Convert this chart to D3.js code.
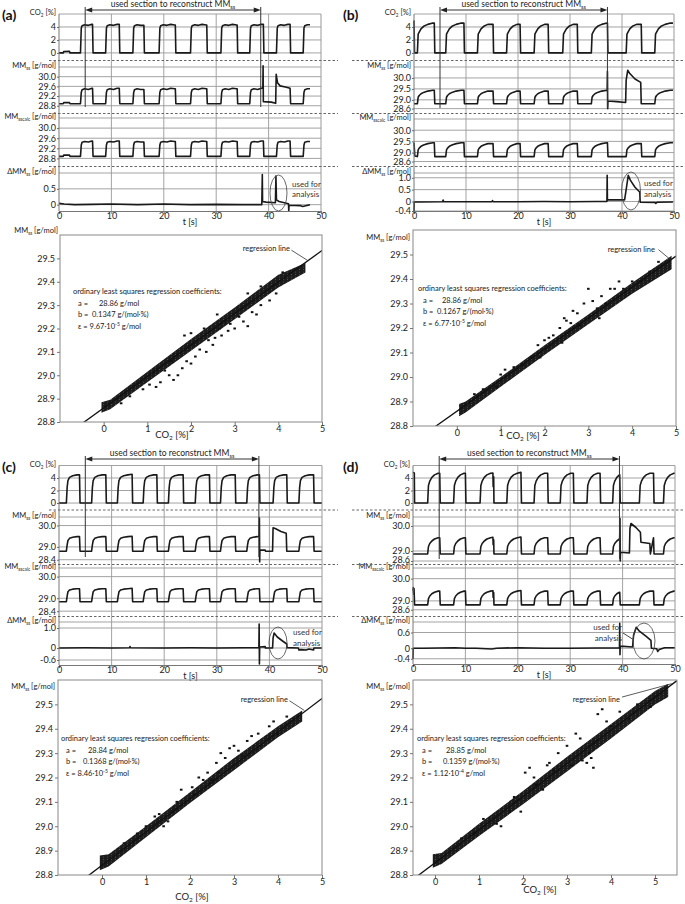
<!DOCTYPE html>
<html>
<head>
<meta charset="utf-8">
<script src="https://cdn.jsdelivr.net/npm/d3@7"></script>
<style>
  body { margin: 0; background: #fff; }
  svg { font-family: Lato, "Open Sans", sans-serif; }
</style>
</head>
<body>
<svg id="fig" width="685" height="904"></svg>
<script>
// ---------- data ----------
const timeTicks = [0, 10, 20, 30, 40, 50];
const co2Ticks = [0, 2, 4];
const scatterXTicks = [0, 1, 2, 3, 4, 5];
const scatterYTicks = [28.8, 28.9, 29.0, 29.1, 29.2, 29.3, 29.4, 29.5];

// (a) pulses [rise, fall] in s
const pulsesA = [[4.1, 6.4], [8.9, 11.5], [14.1, 16.2], [19.1, 22.2], [25.1, 28.2], [30.9, 34.0], [36.4, 39.0], [41.5, 44.1], [46.6, 47.9]];
const co2ShapeA = [[0, 0], [0.15, 3.8], [0.3, 4.2], [0.8, 4.35], [1.5, 4.25], [2.2, 4.4], [3.0, 4.3]];
const mmShapeA = [[0, 28.88], [0.15, 29.35], [0.3, 29.46], [0.8, 29.5], [1.5, 29.47], [2.2, 29.52], [3.0, 29.5]];
const mmcShapeA = [[0, 28.88], [0.15, 29.33], [0.3, 29.44], [0.8, 29.47], [1.5, 29.45], [2.2, 29.49], [3.0, 29.47]];
const co2StartA = [[0.8, 0], [0.9, 0.2], [2.0, 0.25], [2.1, 0]];
const mmStartA = [[0.8, 28.88], [0.9, 28.93], [2.0, 28.93], [2.1, 28.88]];
const mmAnomA = [[38.9, 29.52], [38.95, 30.45], [39.0, 28.97], [40.5, 28.95], [41.35, 28.9], [41.45, 30.1], [41.7, 29.75], [42.2, 29.62], [43.2, 29.57], [44.1, 29.52], [44.2, 28.88]];
const dmmA = [[0, 0.04], [1, 0.02], [3, 0.0], [6, 0.01], [10, 0.02], [15, 0.0], [20, 0.02], [25, 0.0], [30, 0.01], [35, 0.0], [38.7, 0.0], [38.8, 0.95], [38.85, 0.1], [39.5, 0.08], [41.3, 0.06], [41.4, 0.9], [41.5, 0.15], [42, 0.1], [43.8, 0.03], [43.85, -0.2], [43.9, -0.02], [46, -0.03], [46.5, -0.06], [47.9, 0.0]];

// (b)
const pulsesB = [[0.65, 3.9], [6.1, 9.6], [12.2, 15.2], [17.8, 20.4], [23.1, 25.8], [28.6, 31.4], [34.1, 37.2], [40.8, 43.7], [46.3, 49.8]];
const co2ShapeB = [[0, 0], [0.15, 2.9], [0.35, 3.2], [0.7, 3.7], [1.2, 4.1], [2.0, 4.4], [3.0, 4.6]];
const mmShapeB = [[0, 28.82], [0.15, 29.12], [0.35, 29.2], [0.7, 29.28], [1.2, 29.34], [2.0, 29.4], [3.0, 29.44]];
const mmcShapeB = [[0, 28.82], [0.15, 29.12], [0.35, 29.2], [0.7, 29.28], [1.2, 29.34], [2.0, 29.4], [3.0, 29.44]];
const co2StartB = [[0, 5.0], [0.1, 0]];
const mmcStartB = [[0, 29.45], [0.15, 28.85]];
const mmAnomB = [[37.15, 29.45], [37.2, 30.3], [37.25, 28.6], [37.3, 28.95], [39, 28.92], [40.7, 28.88], [40.8, 29.9], [41.1, 30.35], [41.5, 30.2], [42.5, 29.95], [43.6, 29.8], [43.7, 28.82]];
const dmmB = [[0, -0.4], [0.05, -0.02], [1, -0.02], [5.5, -0.01], [5.6, 0.06], [5.7, -0.01], [10, -0.01], [15, -0.01], [15.1, 0.04], [15.2, -0.01], [20, -0.01], [25, 0.0], [30, -0.01], [35, 0.0], [37.1, 0.0], [37.15, 1.1], [37.2, 0.05], [37.3, 0.08], [40.5, 0.07], [40.8, 0.5], [41.2, 1.1], [41.6, 0.9], [42.5, 0.6], [43.4, 0.4], [43.5, -0.03], [46.3, -0.04], [46.5, -0.08], [46.8, -0.03], [49.8, -0.02]];

// (c)
const pulsesC = [[1.4, 3.9], [6.2, 8.9], [11.1, 13.9], [16.0, 18.6], [20.8, 23.6], [25.9, 28.6], [30.7, 33.5], [35.7, 38.1], [40.7, 43.3], [45.6, 48.4]];
const co2ShapeC = [[0, 0], [0.15, 2.5], [0.3, 3.6], [0.6, 4.1], [1.2, 4.35], [2.0, 4.5], [2.8, 4.6]];
const mmShapeC = [[0, 28.8], [0.15, 29.1], [0.3, 29.3], [0.6, 29.4], [1.2, 29.45], [2.0, 29.48], [2.8, 29.5]];
const mmcShapeC = [[0, 28.84], [0.15, 29.1], [0.3, 29.3], [0.6, 29.38], [1.2, 29.42], [2.0, 29.44], [2.8, 29.46]];
const mmAnomC = [[38.05, 29.5], [38.1, 30.35], [38.15, 28.3], [38.2, 28.85], [39.2, 28.85], [39.25, 28.8], [40.6, 28.8], [40.7, 29.9], [41.2, 29.85], [42.2, 29.72], [43.2, 29.64], [43.3, 28.8]];
const dmmC = [[0, 0], [5, 0.01], [10, 0.0], [13.4, 0.01], [13.5, 0.07], [13.6, 0.01], [20, 0.0], [25, 0.01], [30, 0.0], [35, 0.01], [38.0, 0.01], [38.05, 1.2], [38.1, -0.8], [38.15, 0.05], [39.2, 0.07], [39.25, 0.0], [40.6, 0.0], [40.7, 0.5], [40.9, 0.75], [41.5, 0.55], [42.5, 0.35], [43.3, 0.2], [43.35, 0.02], [45.5, 0.0], [45.6, -0.1], [46, -0.08], [47, -0.1], [47.5, -0.05], [48.4, -0.1], [48.45, 0.0], [50, 0.0]];

// (d)
const pulsesD = [[2.8, 5.1], [7.75, 10.0], [12.8, 15.5], [17.9, 20.6], [23.1, 25.7], [28.1, 30.6], [33.2, 35.7], [38.1, 39.45], [43.2, 45.9], [47.8, 50]];
const co2ShapeD = [[0, 0], [0.15, 2.8], [0.4, 3.5], [0.8, 4.1], [1.3, 4.5], [2.0, 4.75], [2.7, 4.9]];
const mmShapeD = [[0, 28.88], [0.15, 29.18], [0.4, 29.3], [0.8, 29.4], [1.3, 29.48], [2.0, 29.53], [2.7, 29.56]];
const mmcShapeD = [[0, 28.82], [0.15, 29.1], [0.4, 29.22], [0.8, 29.32], [1.3, 29.39], [2.0, 29.44], [2.7, 29.47]];
const co2StartD = [[0, 4.9], [0.25, 4.8], [0.3, 0]];
const co2NotchD = [[15.25, 4.8], [15.3, 2.6], [15.4, 4.2], [15.45, 0]];
const mmNotchD = [[15.25, 29.55], [15.3, 29.25], [15.4, 29.45], [15.45, 28.88]];
const mmcStartD = [[0, 29.45], [0.05, 29.6], [0.12, 29.3], [0.2, 29.55], [0.3, 28.82]];
const mmcNotchD = [[15.25, 29.46], [15.3, 29.15], [15.4, 29.38], [15.45, 28.82]];
const mmAnomD = [[39.45, 29.55], [39.5, 30.3], [39.55, 28.6], [39.6, 28.95], [41.3, 28.92], [41.4, 29.9], [41.6, 30.1], [42.5, 29.95], [43.4, 29.75], [43.5, 29.35], [45.2, 29.3], [45.3, 28.88]];
const dmmD = [[0, -0.4], [0.05, 0.0], [2, 0.0], [5, 0.01], [8, 0.02], [10, 0.0], [12, 0.0], [15, -0.03], [16, 0.0], [20, 0.02], [25, 0.0], [30, 0.0], [35, 0.01], [39.4, 0.01], [39.45, 0.95], [39.5, -0.25], [39.55, 0.08], [41.9, 0.05], [42.1, 0.5], [42.6, 0.8], [43.2, 0.65], [44.5, 0.45], [45.4, 0.3], [45.5, 0.0], [46.5, -0.02], [46.7, -0.12], [47, -0.05], [48, 0.02], [50, 0.02]];

// scatter: regression coefficients [a, b]
const regA = [28.86, 0.1347];
const regB = [28.86, 0.1267];
const regC = [28.84, 0.1368];
const regD = [28.85, 0.1359];
const epsLabels = [['9.67', '-5'], ['6.77', '-5'], ['8.46', '-5'], ['1.12', '-4']];

// band of dense points: [co2, lower MM, upper MM]
const bandA = [[-0.05, 28.84, 28.885], [0.15, 28.855, 28.895], [1, 28.97, 29.015], [2, 29.105, 29.155], [3, 29.24, 29.29], [4, 29.375, 29.43], [4.62, 29.44, 29.48]];
const bandB = [[0.05, 28.84, 28.89], [0.2, 28.855, 28.9], [1, 28.96, 29.0], [2, 29.09, 29.13], [3, 29.215, 29.255], [4, 29.34, 29.385], [4.9, 29.44, 29.495]];
const bandC = [[-0.05, 28.82, 28.88], [0.15, 28.835, 28.885], [1, 28.955, 29.0], [2, 29.095, 29.14], [3, 29.23, 29.28], [4, 29.365, 29.41], [4.55, 29.43, 29.475]];
const bandD = [[-0.05, 28.83, 28.885], [0.15, 28.845, 28.89], [1, 28.96, 29.01], [2, 29.09, 29.145], [3, 29.225, 29.285], [4, 29.36, 29.42], [5, 29.5, 29.555], [5.3, 29.53, 29.585]];

// scattered outliers [co2, MM]
const outA = [[2.4, 29.15], [2.55, 29.16], [2.7, 29.17], [2.85, 29.19], [2.2, 29.11], [2.35, 29.1], [1.9, 29.06], [2.0, 29.05], [1.5, 29.0], [1.6, 28.98], [1.7, 29.0], [1.3, 28.97], [1.2, 28.95], [3.0, 29.2], [3.2, 29.23], [3.4, 29.27], [3.5, 29.26], [3.6, 29.3], [2.0, 29.18], [1.85, 29.17], [3.3, 29.35], [3.6, 29.38], [2.6, 29.26], [4.1, 29.44], [0.9, 28.94], [2.65, 29.2],
  [1.05, 28.96], [1.4, 29.02], [1.8, 29.03], [2.1, 29.08], [2.5, 29.13], [2.9, 29.22], [3.1, 29.25], [3.8, 29.32], [3.95, 29.35], [0.6, 28.91], [0.4, 28.88], [3.3, 29.21], [2.3, 29.2], [1.55, 29.06]];
const outB = [[2.0, 29.15], [2.1, 29.16], [2.35, 29.2], [2.5, 29.23], [2.6, 29.22], [2.75, 29.26], [3.0, 29.36], [3.3, 29.33], [3.5, 29.36], [3.6, 29.36], [3.2, 29.28], [1.3, 29.04], [1.5, 29.05], [1.7, 29.08], [0.9, 28.96], [1.0, 29.01], [4.4, 29.43], [4.2, 29.39], [2.9, 29.3], [3.8, 29.36], [1.9, 29.08], [2.4, 29.14], [2.45, 29.24],
  [1.85, 29.13], [2.2, 29.17], [2.65, 29.27], [3.1, 29.31], [3.4, 29.3], [3.7, 29.39], [4.0, 29.39], [4.6, 29.47], [1.1, 29.03], [0.6, 28.95], [0.4, 28.93], [2.8, 29.21], [3.25, 29.24]];
const outC = [[3.55, 29.38], [3.0, 29.33], [3.3, 29.35], [2.7, 29.3], [2.6, 29.26], [2.4, 29.22], [2.2, 29.2], [1.8, 29.15], [1.6, 29.06], [2.1, 29.13], [3.8, 29.41], [3.2, 29.29], [1.2, 29.04], [1.5, 29.02], [2.9, 29.32], [4.0, 29.38], [3.6, 29.33], [1.4, 29.0], [2.5, 29.19],
  [1.0, 29.0], [1.3, 29.05], [1.7, 29.1], [2.05, 29.16], [2.3, 29.19], [2.8, 29.28], [3.1, 29.31], [3.4, 29.37], [3.9, 29.43], [4.2, 29.45], [0.5, 28.93], [0.8, 28.97], [2.65, 29.22]];
const outD = [[3.3, 29.36], [3.7, 29.46], [3.9, 29.43], [3.0, 29.33], [2.7, 29.23], [2.55, 29.25], [2.15, 29.24], [2.25, 29.2], [3.45, 29.26], [3.55, 29.28], [3.5, 29.3], [3.6, 29.24], [1.7, 29.06], [1.4, 29.01], [1.5, 29.0], [1.95, 29.06], [4.2, 29.47], [4.6, 29.5], [2.05, 29.22], [3.2, 29.38], [3.8, 29.48], [2.6, 29.26],
  [1.1, 29.03], [1.8, 29.12], [2.3, 29.17], [2.8, 29.3], [3.1, 29.25], [3.35, 29.27], [4.0, 29.41], [4.4, 29.44], [4.9, 29.49], [0.6, 28.95], [0.9, 28.97], [2.45, 29.15]];

// ---------- helpers ----------
const svg = d3.select('#fig');
const ink = '#1a1a1a';

// faint speckle texture for the dense point band
const pat = svg.append('defs').append('pattern').attr('id', 'dots')
  .attr('patternUnits', 'userSpaceOnUse').attr('width', 4).attr('height', 2.5);
pat.append('rect').attr('width', 4).attr('height', 2.5).attr('fill', '#1c1c1c');
pat.append('rect').attr('x', 3).attr('y', 1.9).attr('width', 1).attr('height', 0.6).attr('fill', '#6a6a6a');

// series from pulse times, a plateau shape and replaced stretches
const buildSeries = (pulses, shape, tEnd, extras) => {
  const base = shape[0][1];
  let pts = [[0, base]];
  pulses.forEach(([rise, fall]) => {
    const stop = Math.min(fall, tEnd);
    shape.forEach(([dt, v]) => { if (rise + dt < stop) pts.push([rise + dt, v]); });
    const last = pts[pts.length - 1][1];
    pts.push([stop, last]);
    if (fall < tEnd) pts.push([fall + 0.1, base]);
  });
  if (pulses[pulses.length - 1][1] < tEnd) pts.push([tEnd, base]);
  (extras || []).forEach((ex) => {
    const from = ex[0][0], to = ex[ex.length - 1][0];
    pts = pts.filter((p) => p[0] < from || p[0] > to + 0.15).concat(ex);
  });
  pts.sort((a, b) => a[0] - b[0]);
  return pts;
};

const addLabel = (g, x, y, parts, size, anchor, subRatio) => {
  const t = g.append('text').attr('x', x).attr('y', y).attr('font-size', size)
    .attr('text-anchor', anchor || 'end').attr('fill', '#222');
  let shift = 0;
  parts.forEach(([s, mode]) => {
    const dy = mode === 1 ? 2 : mode === 2 ? -3.5 : 0;
    t.append('tspan').attr('dy', dy - shift).attr('font-size', mode ? size * (subRatio || 0.68) : size).text(s);
    shift = dy;
  });
  return t;
};

const fmtDelta = (d) => (d === 0 ? '0' : d.toFixed(1));
const lblCO2 = [['CO', 0], ['2', 1], [' [%]', 0]];
const lblMM = [['MM', 0], ['ss', 1], [' [g/mol]', 0]];
const lblMMc = [['MM', 0], ['sscalc', 1], [' [g/mol]', 0]];
const lblDMM = [['\u0394MM', 0], ['ss', 1], [' [g/mol]', 0]];

// ---------- time panels ----------
const timePanels = [
  {
    name: '(a)', nameX: 2, nameY: 20, tx: [59, 321], tEnd: 47.9, secEnd: 38.5, arrowY: 10, secBottom: 107,
    dashY: [60.5, 113.5, 166.5], dashX: [49, 338],
    ellipse: [278.5, 193, 8.5, 18], usedX: 292, usedY: [187, 197], usedAnchor: 'start',
    strips: [
      { label: lblCO2, domain: [-1, 6], range: [59.4, 14], ticks: co2Ticks, fmt: d3.format('d'), data: buildSeries(pulsesA, co2ShapeA, 47.9, [co2StartA]) },
      { label: lblMM, domain: [28.5, 30.4], range: [113, 67], ticks: [28.8, 29.2, 29.6, 30.0], fmt: d3.format('.1f'), data: buildSeries(pulsesA, mmShapeA, 47.9, [mmStartA, mmAnomA]) },
      { label: lblMMc, domain: [28.5, 30.4], range: [166, 118], ticks: [28.8, 29.2, 29.6, 30.0], fmt: d3.format('.1f'), data: buildSeries(pulsesA, mmcShapeA, 47.9, [mmStartA]) },
      { label: lblDMM, domain: [-0.2, 1.0], range: [211, 173], ticks: [0, 0.5], fmt: fmtDelta, data: dmmA }
    ]
  },
  {
    name: '(b)', nameX: 343, nameY: 20, tx: [414, 674], tEnd: 49.8, secEnd: 37.2, arrowY: 10, secBottom: 108,
    dashY: [60.5, 113.5, 166.5], dashX: [352, 685],
    ellipse: [631, 191, 9.5, 19], usedX: 644, usedY: [186, 197], usedAnchor: 'start',
    strips: [
      { label: lblCO2, domain: [-1, 6], range: [59.4, 14], ticks: co2Ticks, fmt: d3.format('d'), data: buildSeries(pulsesB, co2ShapeB, 49.8, [co2StartB]) },
      { label: lblMM, domain: [28.4, 30.5], range: [113, 67], ticks: [28.6, 29.0, 29.5, 30.0], fmt: d3.format('.1f'), data: buildSeries(pulsesB, mmShapeB, 49.8, [mmAnomB]) },
      { label: lblMMc, domain: [28.4, 30.5], range: [166, 119], ticks: [28.6, 29.0, 29.5, 30.0], fmt: d3.format('.1f'), data: buildSeries(pulsesB, mmcShapeB, 49.8, [mmcStartB]) },
      { label: lblDMM, domain: [-0.4, 1.2], range: [211, 173], ticks: [-0.4, 0, 0.5, 1.0], fmt: fmtDelta, data: dmmB }
    ]
  },
  {
    name: '(c)', nameX: 2, nameY: 472, tx: [59, 322], tEnd: 50, secEnd: 38, arrowY: 459, secBottom: 557,
    dashY: [510, 564.5, 616.5], dashX: [49, 338],
    ellipse: [278, 643, 9, 16], usedX: 293, usedY: [635, 646], usedAnchor: 'start',
    strips: [
      { label: lblCO2, domain: [-1, 6], range: [509.3, 465.5], ticks: co2Ticks, fmt: d3.format('d'), data: buildSeries(pulsesC, co2ShapeC, 50) },
      { label: lblMM, domain: [28.2, 30.4], range: [564, 517], ticks: [28.4, 29.0, 30.0], fmt: d3.format('.1f'), data: buildSeries(pulsesC, mmShapeC, 50, [mmAnomC]) },
      { label: lblMMc, domain: [28.2, 30.4], range: [615.5, 568], ticks: [28.4, 29.0, 30.0], fmt: d3.format('.1f'), data: buildSeries(pulsesC, mmcShapeC, 50) },
      { label: lblDMM, domain: [-0.85, 1.3], range: [665, 622], ticks: [-0.6, 0, 1.0], fmt: fmtDelta, data: dmmC }
    ]
  },
  {
    name: '(d)', nameX: 343, nameY: 472, tx: [413, 675], tEnd: 50, secEnd: 39.4, arrowY: 459, secBottom: 559,
    dashY: [510, 564.5, 616.5], dashX: [352, 685],
    ellipse: [644, 641, 11, 18], usedX: 622, usedY: [630, 641], usedAnchor: 'end', leader: [[623, 633], [634, 640]],
    strips: [
      { label: lblCO2, domain: [-1, 6], range: [509.3, 465.5], ticks: co2Ticks, fmt: d3.format('d'), data: buildSeries(pulsesD, co2ShapeD, 50, [co2StartD, co2NotchD]) },
      { label: lblMM, domain: [28.48, 30.36], range: [564, 517], ticks: [28.6, 29.0, 30.0], fmt: d3.format('.1f'), lowShift: -1.5, data: buildSeries(pulsesD, mmShapeD, 50, [mmNotchD, mmAnomD]) },
      { label: lblMMc, domain: [28.32, 30.48], range: [616, 568], ticks: [28.6, 29.0, 30.0], fmt: d3.format('.1f'), data: buildSeries(pulsesD, mmcShapeD, 50, [mmcStartD, mmcNotchD]) },
      { label: lblDMM, domain: [-0.6, 1.0], range: [664, 622], ticks: [-0.4, 0, 0.6], fmt: fmtDelta, data: dmmD }
    ]
  }
];

const drawTimePanel = (p) => {
  const g = svg.append('g');
  const x = d3.scaleLinear().domain([0, 50]).range(p.tx);
  const top = p.strips[0].range[1];
  const bottom = p.strips[3].range[0];

  g.append('text').attr('x', p.nameX).attr('y', p.nameY).attr('font-size', 14)
    .attr('font-weight', 'bold').attr('fill', '#111').text(p.name);

  // vertical grid
  g.selectAll('.vgrid').data(timeTicks.slice(1, 5)).enter().append('line')
    .attr('x1', (d) => x(d)).attr('x2', (d) => x(d)).attr('y1', top).attr('y2', bottom)
    .attr('stroke', '#999').attr('stroke-width', 0.9);

  p.strips.forEach((s) => {
    const y = d3.scaleLinear().domain(s.domain).range(s.range);
    g.selectAll(null).data(s.ticks.concat([s.domain[1]])).enter().append('line')
      .attr('x1', p.tx[0]).attr('x2', p.tx[1]).attr('y1', (d) => y(d)).attr('y2', (d) => y(d))
      .attr('stroke', '#999').attr('stroke-width', 0.9);

    const ax = g.append('g').attr('transform', `translate(${p.tx[0]},0)`)
      .call(d3.axisLeft(y).tickValues(s.ticks).tickSize(2).tickPadding(1).tickFormat(s.fmt));
    ax.select('.domain').remove();
    ax.attr('font-size', 9).attr('font-family', null);
    ax.selectAll('line').attr('stroke', '#666');
    ax.selectAll('text').attr('fill', '#222');
    if (s.lowShift) ax.select('.tick text').attr('y', s.lowShift);

    addLabel(g, p.tx[0] - 3, s.range[1] + 1, s.label, 7.5, 'end', 0.62);

    g.append('path').datum(s.data)
      .attr('fill', 'none').attr('stroke', ink).attr('stroke-width', 1.6)
      .attr('stroke-linejoin', 'round')
      .attr('d', d3.line().x((d) => x(d[0])).y((d) => y(d[1])));
  });

  // frame sides
  g.append('line').attr('x1', p.tx[0]).attr('x2', p.tx[0]).attr('y1', top).attr('y2', bottom).attr('stroke', '#777');
  g.append('line').attr('x1', p.tx[1]).attr('x2', p.tx[1]).attr('y1', top).attr('y2', bottom).attr('stroke', '#999');

  // dashed separators
  g.selectAll('.dash').data(p.dashY).enter().append('line')
    .attr('x1', p.dashX[0]).attr('x2', p.dashX[1]).attr('y1', (d) => d).attr('y2', (d) => d)
    .attr('stroke', '#666').attr('stroke-dasharray', '2.5,2');

  // time axis
  const bx = g.append('g').attr('transform', `translate(0,${bottom})`)
    .call(d3.axisBottom(x).tickValues(timeTicks).tickSize(3).tickPadding(-1));
  bx.select('.domain').attr('stroke', '#777');
  bx.attr('font-size', 9).attr('font-family', null);
  bx.selectAll('line').attr('stroke', '#777');
  bx.selectAll('text').attr('fill', '#222');
  g.append('text').attr('x', x(25)).attr('y', bottom + 14).attr('font-size', 9)
    .attr('text-anchor', 'middle').attr('fill', '#222').text('t [s]');

  // used section marker
  const x5 = x(5), xe = x(p.secEnd), ay = p.arrowY;
  [x5, xe].forEach((xv) => {
    g.append('line').attr('x1', xv).attr('x2', xv).attr('y1', ay - 3).attr('y2', p.secBottom)
      .attr('stroke', '#333').attr('stroke-width', 1);
  });
  g.append('line').attr('x1', x5 + 4).attr('x2', xe - 4).attr('y1', ay).attr('y2', ay).attr('stroke', '#333');
  g.append('path').attr('d', `M${x5},${ay} l7,-2.5 v5 z M${xe},${ay} l-7,-2.5 v5 z`).attr('fill', '#222');
  addLabel(g, (x5 + xe) / 2, ay - 3.5, [['used section to reconstruct MM', 0], ['ss', 1]], 8.5, 'middle');

  // analysis marker
  const [cx, cy, rx, ry] = p.ellipse;
  g.append('ellipse').attr('cx', cx).attr('cy', cy).attr('rx', rx).attr('ry', ry)
    .attr('fill', 'none').attr('stroke', '#444').attr('stroke-width', 0.8);
  ['used for', 'analysis'].forEach((t, i) => {
    g.append('text').attr('x', p.usedX).attr('y', p.usedY[i]).attr('font-size', 8)
      .attr('text-anchor', p.usedAnchor).attr('fill', '#333').text(t);
  });
  if (p.leader) {
    g.append('line').attr('x1', p.leader[0][0]).attr('y1', p.leader[0][1])
      .attr('x2', p.leader[1][0]).attr('y2', p.leader[1][1]).attr('stroke', '#444');
  }
};

timePanels.forEach(drawTimePanel);

// ---------- scatter panels ----------
const scatterPanels = [
  { id: 'sa', xr: [60, 322], yr: [422, 235], xd: [-1, 5], reg: regA, eps: epsLabels[0], band: bandA, out: outA,
    yLab: [58, 233], xLab: [172, 438], regLab: [290, 251], leader: [[4.3, 29.535], [4.68, 29.49]],
    coef: [73, 294], aVal: 99, bVal: 92, bText: '0.1347' },
  { id: 'sb', xr: [413, 676], yr: [426, 230], xd: [-1, 5], reg: regB, eps: epsLabels[1], band: bandB, out: outB,
    yLab: [410, 240], xLab: [523, 439], regLab: [655, 252], leader: [[4.6, 29.52], [4.88, 29.478]],
    coef: [418, 291], aVal: 442, bVal: 437, bText: '0.1267' },
  { id: 'sc', xr: [58, 322], yr: [875, 680], xd: [-1, 5], reg: regC, eps: epsLabels[2], band: bandC, out: outC,
    yLab: [55, 689], xLab: [192, 900], regLab: [288, 702], leader: [[4.26, 29.515], [4.6, 29.475]],
    coef: [61, 741], aVal: 88, bVal: 83, bText: '0.1368' },
  { id: 'sd', xr: [413, 677], yr: [875, 680], xd: [-0.5, 5.5], reg: regD, eps: epsLabels[3], band: bandD, out: outD,
    yLab: [410, 689], xLab: [540, 893], regLab: [620, 702], leader: [[4.25, 29.53], [5.38, 29.585]],
    coef: [417, 741], aVal: 446, bVal: 443, bText: '0.1359' }
];

const drawScatter = (p) => {
  const g = svg.append('g');
  const x = d3.scaleLinear().domain(p.xd).range(p.xr);
  const y = d3.scaleLinear().domain([28.8, 29.6]).range(p.yr);
  const [a, b] = p.reg;

  g.append('clipPath').attr('id', 'clip-' + p.id).append('rect')
    .attr('x', p.xr[0]).attr('y', p.yr[1]).attr('width', p.xr[1] - p.xr[0]).attr('height', p.yr[0] - p.yr[1]);
  const plot = g.append('g').attr('clip-path', `url(#clip-${p.id})`);

  plot.append('path').datum(p.band).attr('fill', 'url(#dots)')
    .attr('d', d3.area().x((d) => x(d[0])).y0((d) => y(d[1])).y1((d) => y(d[2])));

  plot.selectAll('.pt').data(p.out).enter().append('rect')
    .attr('x', (d) => x(d[0]) - 1.3).attr('y', (d) => y(d[1]) - 1)
    .attr('width', 2.6).attr('height', 2).attr('fill', '#111');

  plot.append('path').datum(p.xd.map((v) => [v, a + b * v]))
    .attr('fill', 'none').attr('stroke', '#111').attr('stroke-width', 1.3)
    .attr('d', d3.line().x((d) => x(d[0])).y((d) => y(d[1])));

  g.append('rect').attr('x', p.xr[0]).attr('y', p.yr[1])
    .attr('width', p.xr[1] - p.xr[0]).attr('height', p.yr[0] - p.yr[1])
    .attr('fill', 'none').attr('stroke', '#888').attr('stroke-width', 1);

  const ay = g.append('g').attr('transform', `translate(${p.xr[0]},0)`)
    .call(d3.axisLeft(y).tickValues(scatterYTicks).tickSize(3).tickPadding(2).tickFormat(d3.format('.1f')));
  ay.select('.domain').remove();
  ay.attr('font-size', 9).attr('font-family', null);
  ay.selectAll('line').attr('stroke', '#777');
  ay.selectAll('text').attr('fill', '#222');

  const ax = g.append('g').attr('transform', `translate(0,${p.yr[0]})`)
    .call(d3.axisBottom(x).tickValues(scatterXTicks).tickSize(3).tickPadding(1).tickFormat(d3.format('d')));
  ax.select('.domain').remove();
  ax.attr('font-size', 9).attr('font-family', null);
  ax.selectAll('line').attr('stroke', '#777');
  ax.selectAll('text').attr('fill', '#222');

  addLabel(g, p.yLab[0], p.yLab[1], lblMM, 7.5, 'end', 0.62);
  addLabel(g, p.xLab[0], p.xLab[1], lblCO2, 9.5, 'middle');

  g.append('text').attr('x', p.regLab[0]).attr('y', p.regLab[1]).attr('font-size', 7.5)
    .attr('text-anchor', 'end').attr('fill', '#222').text('regression line');
  g.append('line')
    .attr('x1', x(p.leader[0][0])).attr('y1', y(p.leader[0][1]))
    .attr('x2', x(p.leader[1][0])).attr('y2', y(p.leader[1][1]))
    .attr('stroke', '#333').attr('stroke-width', 0.8);

  const [cx, cy] = p.coef;
  const txt = (tx, ty, s) => g.append('text').attr('x', tx).attr('y', ty).attr('font-size', 7.5)
    .attr('fill', '#222').text(s);
  txt(cx, cy, 'ordinary least squares regression coefficients:');
  txt(cx + 5, cy + 12, 'a =');
  txt(p.aVal, cy + 12, a.toFixed(2) + ' g/mol');
  txt(cx + 5, cy + 23, 'b =');
  txt(p.bVal, cy + 23, p.bText + ' g/(mol\u00b7%)');
  addLabel(g, cx + 5, cy + 35, [['\u03b5 = ' + p.eps[0] + '\u00b710', 0], [p.eps[1], 2], [' g/mol', 0]], 7.5, 'start');
};

scatterPanels.forEach(drawScatter);
</script>
</body>
</html>
